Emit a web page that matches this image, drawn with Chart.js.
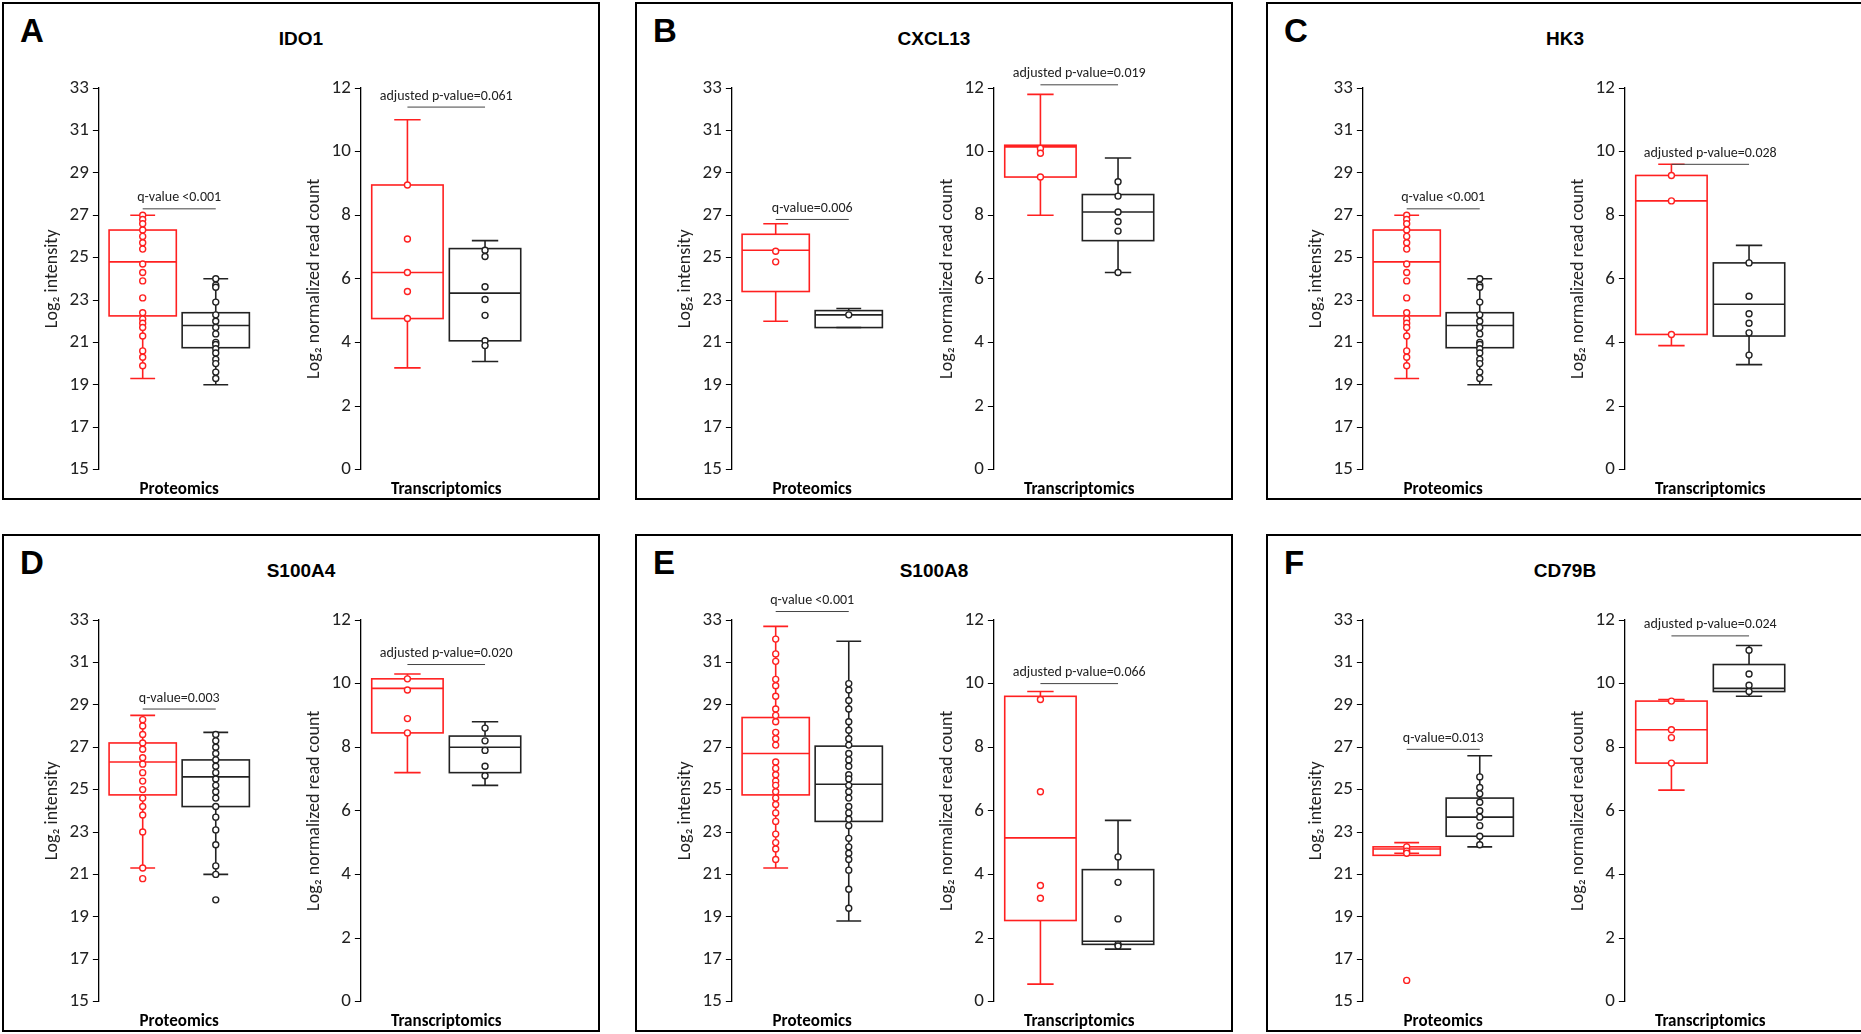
<!DOCTYPE html>
<html>
<head>
<meta charset="utf-8">
<script src="https://cdn.jsdelivr.net/npm/chart.js@4.4.1/dist/chart.umd.min.js"></script>
<style>
  body { margin: 0; background: #fff; width: 1861px; height: 1034px; position: relative; overflow: hidden; font-family: Calibri, Carlito, "Liberation Sans", sans-serif; }
  .panel { position: absolute; width: 594px; height: 494px; border: 2px solid #000; box-sizing: content-box; }
  .letter { position: absolute; left: 16px; top: 8px; font: bold 33px "Liberation Sans", sans-serif; }
  .gene { position: absolute; left: 0; width: 100%; top: 24px; text-align: center; font: bold 19px "Liberation Sans", sans-serif; }
  .sub { position: absolute; }
</style>
</head>
<body>
<script>
// box stats: [min, q1, median, q3, max]
const genes = ['IDO1', 'CXCL13', 'HK3', 'S100A4', 'S100A8', 'CD79B'];
const letters = ['A', 'B', 'C', 'D', 'E', 'F'];

const ido1ProtCase = [19.3, 22.25, 24.8, 26.3, 27];
const ido1ProtCasePts = [27, 26.8, 26.6, 26.3, 26, 25.7, 25.4, 24.7, 24.3, 23.9, 23.1, 22.4, 22.1, 21.9, 21.7, 21.3, 20.6, 20.3, 19.9];
const ido1ProtCtrl = [19, 20.75, 21.8, 22.4, 24];
const ido1ProtCtrlPts = [24, 23.7, 23.6, 22.9, 22.3, 22, 21.7, 21.4, 21, 20.9, 20.7, 20.5, 20.2, 20, 19.6, 19.3];
const ido1TxCase = [3.2, 4.75, 6.2, 8.95, 11];
const ido1TxCasePts = [8.95, 7.25, 6.2, 5.6, 4.75];
const ido1TxCtrl = [3.4, 4.05, 5.55, 6.95, 7.2];
const ido1TxCtrlPts = [6.9, 6.7, 5.75, 5.35, 4.85, 4.05, 3.9];

const cxcl13ProtCase = [22, 23.4, 25.35, 26.1, 26.6];
const cxcl13ProtCasePts = [25.3, 24.8];
const cxcl13ProtCtrl = [21.7, 21.7, 22.3, 22.5, 22.6];
const cxcl13ProtCtrlPts = [22.3];
const cxcl13TxCase = [8, 9.2, 10.15, 10.2, 11.8];
const cxcl13TxCasePts = [10.1, 9.95, 9.2];
const cxcl13TxCtrl = [6.2, 7.2, 8.1, 8.65, 9.8];
const cxcl13TxCtrlPts = [9.05, 8.6, 8.1, 7.8, 7.5, 6.2];

const hk3ProtCase = [19.3, 22.25, 24.8, 26.3, 27];
const hk3ProtCasePts = [27, 26.8, 26.6, 26.3, 26, 25.7, 25.4, 24.7, 24.3, 23.9, 23.1, 22.4, 22.1, 21.9, 21.7, 21.3, 20.6, 20.3, 19.9];
const hk3ProtCtrl = [19, 20.75, 21.8, 22.4, 24];
const hk3ProtCtrlPts = [24, 23.7, 23.6, 22.9, 22.3, 22, 21.7, 21.4, 21, 20.9, 20.7, 20.5, 20.2, 20, 19.6, 19.3];
const hk3TxCase = [3.9, 4.25, 8.45, 9.25, 9.6];
const hk3TxCasePts = [9.25, 8.45, 4.25];
const hk3TxCtrl = [3.3, 4.2, 5.2, 6.5, 7.05];
const hk3TxCtrlPts = [6.5, 5.45, 4.9, 4.6, 4.3, 3.6];

const s100a4ProtCase = [21.3, 24.75, 26.3, 27.2, 28.5];
const s100a4ProtCasePts = [28.3, 28, 27.6, 27.2, 26.9, 26.5, 26.2, 25.8, 25.4, 25, 24.6, 24.2, 23.8, 23, 21.3, 20.8];
const s100a4ProtCtrl = [21, 24.2, 25.6, 26.4, 27.7];
const s100a4ProtCtrlPts = [27.6, 27.3, 27, 26.7, 26.4, 26.1, 25.8, 25.5, 25.2, 24.9, 24.6, 24.2, 23.7, 23.1, 22.4, 21.4, 21, 19.8];
const s100a4TxCase = [7.2, 8.45, 9.85, 10.15, 10.3];
const s100a4TxCasePts = [10.15, 9.8, 8.9, 8.45];
const s100a4TxCtrl = [6.8, 7.2, 8.0, 8.35, 8.8];
const s100a4TxCtrlPts = [8.6, 8.2, 7.9, 7.4, 7.1];

const s100a8ProtCase = [21.3, 24.75, 26.7, 28.4, 32.7];
const s100a8ProtCasePts = [32.1, 31.4, 31.05, 30.2, 29.9, 29.4, 28.8, 28.5, 28.2, 27.7, 27.4, 27.1, 26.3, 26, 25.7, 25.4, 25.2, 24.9, 24.6, 24.3, 23.9, 23.5, 22.9, 22.5, 22.2, 21.7];
const s100a8ProtCtrl = [18.8, 23.5, 25.25, 27.05, 32];
const s100a8ProtCtrlPts = [30, 29.7, 29.2, 28.8, 28.2, 27.8, 27.4, 27.1, 26.7, 26.4, 26.1, 25.7, 25.5, 25.2, 24.9, 24.6, 24.2, 23.9, 23.6, 23.3, 22.7, 22.3, 22, 21.7, 21.2, 20.3, 19.4];
const s100a8TxCase = [0.55, 2.55, 5.15, 9.6, 9.75];
const s100a8TxCasePts = [9.5, 6.6, 3.65, 3.25];
const s100a8TxCtrl = [1.65, 1.8, 1.9, 4.15, 5.7];
const s100a8TxCtrlPts = [4.55, 3.75, 2.6, 1.8, 1.75];

const cd79bProtCase = [22, 21.9, 22.2, 22.3, 22.5];
const cd79bProtCasePts = [22.3, 22.1, 22, 16];
const cd79bProtCtrl = [22.3, 22.8, 23.7, 24.6, 26.6];
const cd79bProtCtrlPts = [25.6, 25.1, 24.8, 24.4, 24, 23.7, 23.3, 22.8, 22.4];
const cd79bTxCase = [6.65, 7.5, 8.55, 9.45, 9.5];
const cd79bTxCasePts = [9.45, 8.55, 8.3, 7.5];
const cd79bTxCtrl = [9.6, 9.75, 9.85, 10.6, 11.2];
const cd79bTxCtrlPts = [11.05, 10.3, 9.95, 9.75];

const protLabels = ['q-value <0.001', 'q-value=0.006', 'q-value <0.001', 'q-value=0.003', 'q-value <0.001', 'q-value=0.013'];
const protBracketY = [27.3, 26.8, 27.3, 28.8, 33.4, 26.9];
const txLabels = ['adjusted p-value=0.061', 'adjusted p-value=0.019', 'adjusted p-value=0.028', 'adjusted p-value=0.020', 'adjusted p-value=0.066', 'adjusted p-value=0.024'];
const txBracketY = [11.4, 12.1, 9.6, 10.6, 10.0, 11.5];

const protBoxes = [
    [ido1ProtCase, ido1ProtCtrl, ido1ProtCasePts, ido1ProtCtrlPts],
    [cxcl13ProtCase, cxcl13ProtCtrl, cxcl13ProtCasePts, cxcl13ProtCtrlPts],
    [hk3ProtCase, hk3ProtCtrl, hk3ProtCasePts, hk3ProtCtrlPts],
    [s100a4ProtCase, s100a4ProtCtrl, s100a4ProtCasePts, s100a4ProtCtrlPts],
    [s100a8ProtCase, s100a8ProtCtrl, s100a8ProtCasePts, s100a8ProtCtrlPts],
    [cd79bProtCase, cd79bProtCtrl, cd79bProtCasePts, cd79bProtCtrlPts]
];
const txBoxes = [
    [ido1TxCase, ido1TxCtrl, ido1TxCasePts, ido1TxCtrlPts],
    [cxcl13TxCase, cxcl13TxCtrl, cxcl13TxCasePts, cxcl13TxCtrlPts],
    [hk3TxCase, hk3TxCtrl, hk3TxCasePts, hk3TxCtrlPts],
    [s100a4TxCase, s100a4TxCtrl, s100a4TxCasePts, s100a4TxCtrlPts],
    [s100a8TxCase, s100a8TxCtrl, s100a8TxCasePts, s100a8TxCtrlPts],
    [cd79bTxCase, cd79bTxCtrl, cd79bTxCasePts, cd79bTxCtrlPts]
];

const COLORS = ['#ff2020', '#222222'];
const FONT = 'Carlito, "Liberation Sans", sans-serif';

// draws boxes, whiskers and the significance bracket from the dataset's stats
const boxPlugin = {
    id: 'boxes',
    beforeDatasetsDraw(chart) {
        const { ctx, scales: { x, y } } = chart;
        const opt = chart.options.plugins.boxes;
        ctx.save();
        opt.stats.forEach((s, i) => {
            const cx = x.getPixelForValue(i);
            const hw = x.getPixelForValue(i + 0.46) - cx;
            const cw = x.getPixelForValue(i + 0.17) - cx;
            ctx.strokeStyle = COLORS[i];
            ctx.lineWidth = 1.6;
            const [mn, q1, md, q3, mx] = s.map(v => y.getPixelForValue(v));
            ctx.beginPath();
            ctx.moveTo(cx, mn); ctx.lineTo(cx, Math.max(q1, q3));
            ctx.moveTo(cx, Math.min(q1, q3)); ctx.lineTo(cx, mx);
            ctx.moveTo(cx - cw, mn); ctx.lineTo(cx + cw, mn);
            ctx.moveTo(cx - cw, mx); ctx.lineTo(cx + cw, mx);
            ctx.stroke();
            ctx.strokeRect(cx - hw, q3, hw * 2, q1 - q3);
            ctx.beginPath();
            ctx.moveTo(cx - hw, md); ctx.lineTo(cx + hw, md);
            ctx.stroke();
        });
        const by = y.getPixelForValue(opt.bracketY);
        const x0 = x.getPixelForValue(0), x1 = x.getPixelForValue(1);
        ctx.strokeStyle = '#444';
        ctx.lineWidth = 1;
        ctx.beginPath(); ctx.moveTo(x0, by); ctx.lineTo(x1, by); ctx.stroke();
        ctx.fillStyle = '#222';
        ctx.font = '14px ' + FONT;
        ctx.textAlign = 'center';
        ctx.textBaseline = 'bottom';
        ctx.fillText(opt.label, (x0 + x1) / 2, by - 4);
        ctx.restore();
    }
};

function makeChart(parent, left, width, box, ymin, ymax, ytitle, xtitle, label, bracketY) {
    const wrap = document.createElement('div');
    wrap.className = 'sub';
    wrap.style.left = left + 'px';
    wrap.style.top = '48px';
    wrap.style.width = width + 'px';
    wrap.style.height = '448px';
    const canvas = document.createElement('canvas');
    wrap.appendChild(canvas);
    parent.appendChild(wrap);
    new Chart(canvas, {
        type: 'scatter',
        data: {
            datasets: [0, 1].map(i => ({
                data: box[i + 2].map(v => ({ x: i, y: v })),
                borderColor: COLORS[i],
                backgroundColor: '#fff',
                pointRadius: 3,
                pointBorderWidth: 1.4
            }))
        },
        options: {
            animation: false,
            responsive: true,
            maintainAspectRatio: false,
            layout: { padding: { top: 36, right: 4 } },
            scales: {
                x: {
                    min: -0.6, max: 1.6,
                    grid: { display: false },
                    border: { display: false },
                    ticks: { display: false },
                    title: { display: true, text: xtitle, color: '#000', font: { size: 17, weight: 'bold', family: FONT }, padding: { top: 2, bottom: 0 } }
                },
                y: {
                    min: ymin, max: ymax,
                    grid: { display: true, drawOnChartArea: false, drawTicks: true, tickLength: 6, color: '#000' },
                    border: { display: true, color: '#000', width: 1.3 },
                    ticks: { stepSize: 2, color: '#222', padding: 4, font: { size: 19, family: FONT } },
                    title: { display: true, text: ytitle, color: '#222', font: { size: 18, family: FONT }, padding: 2 }
                }
            },
            plugins: {
                legend: { display: false },
                tooltip: { enabled: false },
                boxes: { stats: [box[0], box[1]], label: label, bracketY: bracketY }
            }
        },
        plugins: [boxPlugin]
    });
}

const panelPos = [[2, 2], [635, 2], [1266, 2], [2, 534], [635, 534], [1266, 534]];
genes.forEach((g, i) => {
    const p = document.createElement('div');
    p.className = 'panel';
    p.style.left = panelPos[i][0] + 'px';
    p.style.top = panelPos[i][1] + 'px';
    p.innerHTML = `<div class="letter">${letters[i]}</div><div class="gene">${g}</div>`;
    document.body.appendChild(p);
    makeChart(p, 36, 225, protBoxes[i], 15, 33, 'Log\u2082 intensity', 'Proteomics', protLabels[i], protBracketY[i]);
    makeChart(p, 298, 235, txBoxes[i], 0, 12, 'Log\u2082 normalized read count', 'Transcriptomics', txLabels[i], txBracketY[i]);
});
</script>
</body>
</html>
